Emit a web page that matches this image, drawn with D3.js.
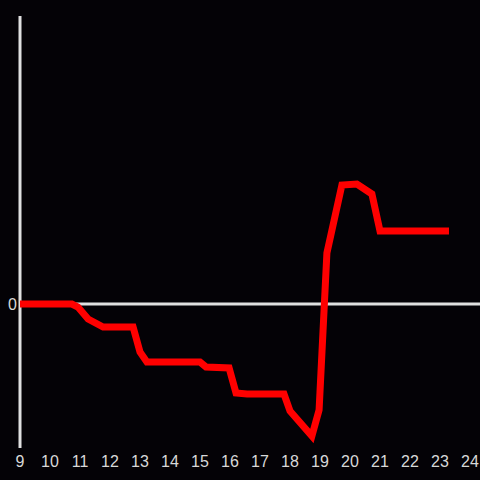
<!DOCTYPE html>
<html>
<head>
<meta charset="utf-8">
<script src="https://cdn.jsdelivr.net/npm/d3@7"></script>
<style>
  html, body { margin: 0; padding: 0; background: #040206; }
  svg { display: block; }
</style>
</head>
<body>
<div class="chart"></div>
<script>
const hours  = [9.0, 10.73, 10.93, 11.27, 11.77, 12.77, 13.0, 13.23, 15.0, 15.2, 15.97, 16.2, 16.57, 17.8, 18.0, 18.73, 18.97, 19.23, 19.73, 20.23, 20.73, 21.0, 23.3];
const values = [0, 0, -0.03, -0.15, -0.23, -0.23, -0.48, -0.58, -0.58, -0.63, -0.64, -0.89, -0.9, -0.9, -1.07, -1.32, -1.06, 0.51, 1.19, 1.2, 1.1, 0.73, 0.73];
const xTicks = [9, 10, 11, 12, 13, 14, 15, 16, 17, 18, 19, 20, 21, 22, 23, 24];
const yTicks = [0];

const width = 480, height = 480;
const axisColor = "#e0e0e0";

const svg = d3.select(".chart").append("svg")
    .attr("width", width)
    .attr("height", height);

svg.append("rect").attr("width", width).attr("height", height).attr("fill", "#040206");

const x = d3.scaleLinear().domain([9, 24]).range([20, 470]);
const y = d3.scaleLinear().domain([-1.44, 2.88]).range([448, 16]);

// zero line
svg.append("line")
    .attr("x1", x(9)).attr("x2", width)
    .attr("y1", y(0)).attr("y2", y(0))
    .attr("stroke", axisColor).attr("stroke-width", 3);

// y axis line
svg.append("line")
    .attr("x1", x(9)).attr("x2", x(9))
    .attr("y1", y(2.88)).attr("y2", y(-1.44))
    .attr("stroke", axisColor).attr("stroke-width", 3);

// y tick labels
svg.selectAll(".ylab").data(yTicks).enter().append("text")
    .attr("x", 17).attr("y", d => y(d))
    .attr("dy", "0.35em")
    .attr("text-anchor", "end")
    .attr("fill", "#d8d8d8")
    .attr("font-family", "'Liberation Sans', Arial, sans-serif")
    .attr("font-size", 16)
    .text(d => d);

// x tick labels
svg.selectAll(".xlab").data(xTicks).enter().append("text")
    .attr("x", d => x(d)).attr("y", 461)
    .attr("dy", "0.35em")
    .attr("text-anchor", "middle")
    .attr("fill", "#d8d8d8")
    .attr("font-family", "'Liberation Sans', Arial, sans-serif")
    .attr("font-size", 16)
    .text(d => d);

const line = d3.line()
    .x((d, i) => x(hours[i]))
    .y(d => y(d));

svg.append("path")
    .datum(values)
    .attr("d", line)
    .attr("fill", "none")
    .attr("stroke", "#ff0000")
    .attr("stroke-width", 7)
    .attr("stroke-linejoin", "miter");
</script>
</body>
</html>
